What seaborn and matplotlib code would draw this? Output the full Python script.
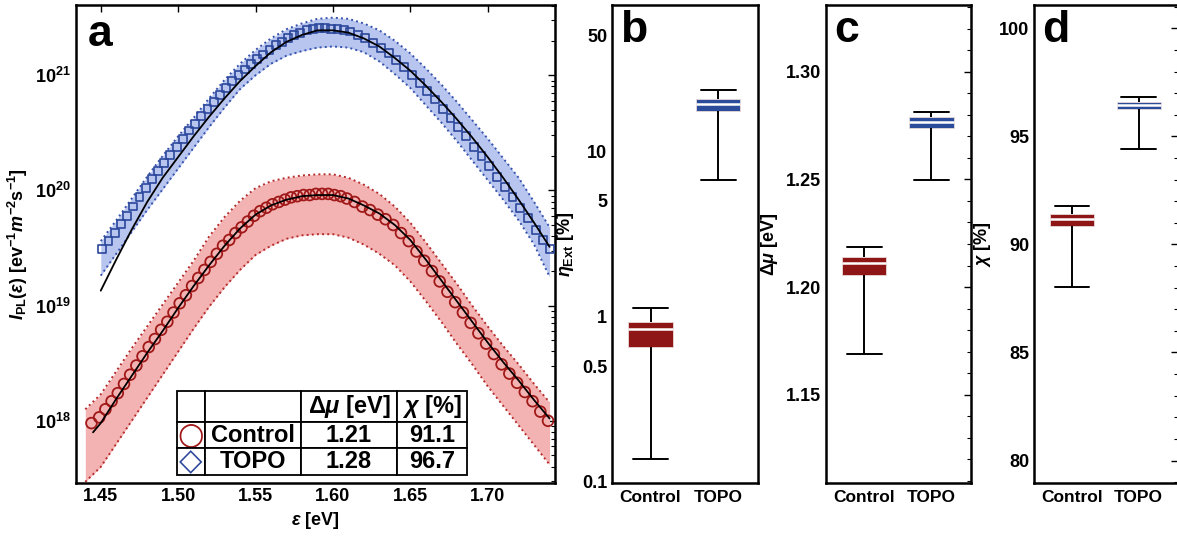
import numpy as np
import pandas as pd
import matplotlib
matplotlib.use("Agg")
import matplotlib.pyplot as plt
import seaborn as sns
from matplotlib.ticker import FixedLocator, FixedFormatter, MultipleLocator, LogLocator, NullFormatter, FormatStrFormatter

# ---------------- data (log10 of intensity) ----------------
band_x = [1.44, 1.45, 1.46, 1.47, 1.48, 1.49, 1.50, 1.51, 1.52, 1.53, 1.54, 1.55, 1.56, 1.57, 1.58,
          1.59, 1.60, 1.61, 1.62, 1.63, 1.64, 1.65, 1.66, 1.67, 1.68, 1.69, 1.70, 1.71, 1.72, 1.73, 1.74]
ctrl_band_hi = [18.10, 18.23, 18.43, 18.63, 18.82, 19.01, 19.20, 19.39, 19.60, 19.77, 19.91, 20.02, 20.08,
                20.11, 20.13, 20.14, 20.14, 20.11, 20.05, 19.97, 19.86, 19.72, 19.55, 19.37, 19.19, 19.00,
                18.82, 18.65, 18.49, 18.32, 18.16]
ctrl_band_lo = [17.47, 17.60, 17.80, 18.00, 18.20, 18.40, 18.60, 18.80, 18.99, 19.16, 19.31, 19.44, 19.52,
                19.58, 19.61, 19.62, 19.62, 19.59, 19.53, 19.45, 19.35, 19.21, 19.04, 18.86, 18.67, 18.49,
                18.30, 18.13, 17.96, 17.79, 17.62]

topo_band_x = [1.45, 1.46, 1.47, 1.48, 1.49, 1.50, 1.51, 1.52, 1.53, 1.54, 1.55, 1.56, 1.57, 1.58, 1.59,
               1.60, 1.61, 1.62, 1.63, 1.64, 1.65, 1.66, 1.67, 1.68, 1.69, 1.70, 1.71, 1.72, 1.73, 1.74]
topo_band_hi = [19.56, 19.74, 19.93, 20.12, 20.30, 20.47, 20.63, 20.80, 20.96, 21.10, 21.22, 21.32, 21.40,
                21.45, 21.49, 21.50, 21.49, 21.45, 21.39, 21.30, 21.19, 21.06, 20.92, 20.77, 20.61, 20.45,
                20.28, 20.11, 19.90, 19.68]
topo_band_lo = [19.26, 19.45, 19.64, 19.83, 20.01, 20.19, 20.37, 20.55, 20.72, 20.88, 21.00, 21.10, 21.17,
                21.21, 21.24, 21.25, 21.24, 21.20, 21.12, 21.01, 20.89, 20.74, 20.59, 20.43, 20.26, 20.09,
                19.92, 19.74, 19.53, 19.25]

ctrl_fit_x = [1.445, 1.45, 1.46, 1.47, 1.48, 1.49, 1.50, 1.51, 1.52, 1.53, 1.54, 1.55, 1.56, 1.57, 1.58,
              1.59, 1.60, 1.61, 1.62, 1.63, 1.64, 1.65, 1.66, 1.67, 1.68, 1.69, 1.70, 1.71, 1.72, 1.73, 1.74]
ctrl_fit = [17.90, 17.98, 18.19, 18.39, 18.59, 18.78, 18.98, 19.17, 19.35, 19.52, 19.67, 19.79, 19.87,
            19.92, 19.95, 19.96, 19.96, 19.93, 19.87, 19.80, 19.70, 19.57, 19.40, 19.22, 19.04, 18.86,
            18.68, 18.51, 18.35, 18.18, 18.02]

topo_fit_x = topo_band_x
topo_fit = [19.13, 19.40, 19.66, 19.90, 20.11, 20.29, 20.47, 20.64, 20.80, 20.95, 21.08, 21.20, 21.29,
            21.35, 21.39, 21.39, 21.37, 21.32, 21.25, 21.15, 21.04, 20.91, 20.77, 20.62, 20.46, 20.29,
            20.11, 19.92, 19.72, 19.51]

ctrl_x = [1.444, 1.449, 1.453, 1.457, 1.461, 1.465, 1.469, 1.473, 1.477, 1.481, 1.485, 1.489, 1.493,
          1.497, 1.501, 1.505, 1.509, 1.513, 1.517, 1.521, 1.525, 1.529, 1.533, 1.537, 1.541, 1.545,
          1.549, 1.553, 1.557, 1.561, 1.565, 1.569, 1.573, 1.577, 1.581, 1.585, 1.589, 1.593, 1.597,
          1.601, 1.605, 1.609, 1.614, 1.619, 1.624, 1.629, 1.634, 1.639, 1.644, 1.649, 1.654, 1.659,
          1.664, 1.669, 1.674, 1.679, 1.684, 1.689, 1.694, 1.699, 1.704, 1.709, 1.714, 1.719, 1.724,
          1.729, 1.734, 1.739]
ctrl_y = [17.98, 18.03, 18.10, 18.17, 18.24, 18.32, 18.40, 18.48, 18.56, 18.64, 18.71, 18.79, 18.86,
          18.94, 19.02, 19.09, 19.17, 19.24, 19.31, 19.38, 19.45, 19.52, 19.57, 19.63, 19.68, 19.73,
          19.78, 19.82, 19.85, 19.88, 19.90, 19.92, 19.94, 19.95, 19.96, 19.96, 19.97, 19.97, 19.97,
          19.96, 19.95, 19.93, 19.90, 19.86, 19.83, 19.79, 19.75, 19.70, 19.63, 19.56, 19.47, 19.39,
          19.30, 19.21, 19.12, 19.03, 18.94, 18.85, 18.76, 18.67, 18.58, 18.49, 18.41, 18.33, 18.25,
          18.17, 18.08, 18.00]

topo_x = [1.451, 1.455, 1.459, 1.463, 1.467, 1.471, 1.475, 1.479, 1.483, 1.487, 1.491, 1.495, 1.499,
          1.503, 1.507, 1.511, 1.515, 1.519, 1.523, 1.527, 1.531, 1.535, 1.539, 1.543, 1.547, 1.551,
          1.555, 1.559, 1.563, 1.567, 1.571, 1.575, 1.579, 1.583, 1.587, 1.591, 1.595, 1.599, 1.603,
          1.607, 1.611, 1.616, 1.621, 1.626, 1.631, 1.636, 1.641, 1.646, 1.651, 1.656, 1.661, 1.666,
          1.671, 1.676, 1.681, 1.686, 1.691, 1.696, 1.701, 1.706, 1.711, 1.716, 1.721, 1.726, 1.731,
          1.736, 1.740]
topo_y = [19.49, 19.56, 19.63, 19.71, 19.78, 19.86, 19.94, 20.02, 20.10, 20.17, 20.24, 20.31, 20.38,
          20.45, 20.52, 20.58, 20.65, 20.71, 20.77, 20.83, 20.89, 20.95, 21.00, 21.05, 21.10, 21.14,
          21.18, 21.22, 21.26, 21.29, 21.32, 21.35, 21.37, 21.39, 21.40, 21.41, 21.41, 21.40, 21.40,
          21.39, 21.38, 21.35, 21.32, 21.28, 21.24, 21.19, 21.13, 21.07, 21.00, 20.93, 20.86, 20.79,
          20.71, 20.63, 20.55, 20.47, 20.38, 20.30, 20.21, 20.12, 20.03, 19.94, 19.85, 19.76, 19.66,
          19.57, 19.49]

groups = ["Control", "TOPO"]
table_dmu = ["1.21", "1.28"]
table_chi = ["91.1", "96.7"]

# five-number summaries: whisker low, Q1, median, Q3, whisker high
eta_control = [0.137, 0.65, 0.84, 0.92, 1.13]
eta_topo = [6.65, 17.5, 19.3, 20.8, 23.4]
dmu_control = [1.169, 1.2054, 1.2111, 1.2138, 1.2186]
dmu_topo = [1.2497, 1.2740, 1.2765, 1.2788, 1.2813]
chi_control = [88.02, 90.84, 91.20, 91.43, 91.79]
chi_topo = [94.42, 96.29, 96.46, 96.61, 96.84]

# ---------------- style ----------------
sns.set_theme(style="white")
plt.rcParams['font.family'] = ['Liberation Sans', 'DejaVu Sans']
plt.rcParams['font.weight'] = 'bold'
plt.rcParams['axes.labelweight'] = 'bold'
plt.rcParams['text.color'] = 'black'
plt.rcParams['axes.labelcolor'] = 'black'
plt.rcParams['xtick.color'] = 'black'
plt.rcParams['ytick.color'] = 'black'
plt.rcParams['mathtext.fontset'] = 'custom'
plt.rcParams['mathtext.rm'] = 'Liberation Sans:bold'
plt.rcParams['mathtext.it'] = 'Liberation Sans:italic:bold'
plt.rcParams['mathtext.bf'] = 'Liberation Sans:bold'
plt.rcParams['mathtext.sf'] = 'Liberation Sans:bold'
plt.rcParams['mathtext.fallback'] = 'stixsans'

RED_FILL = '#f4b3b3'
RED_EDGE = '#b52a2a'
RED_MK = '#a01818'
BLUE_FILL = '#b8c5ef'
BLUE_EDGE = '#3552ad'
BLUE_MK = '#2c479b'
BOX_RED = '#8e1616'
BOX_BLUE = '#2b4b9b'

W, H = 1177, 540
fig = plt.figure(figsize=(W / 100, H / 100), dpi=100)


def rect(l, r, t=5, b=483):
    return [l / W, (H - b) / H, (r - l) / W, (b - t) / H]


def style_axes(ax):
    for s in ax.spines.values():
        s.set_visible(True)
        s.set_color('black')
        s.set_linewidth(1.8)
    ax.tick_params(which='both', direction='in', colors='black', labelcolor='black', labelsize=13)
    ax.tick_params(which='major', length=5, width=1.0)
    ax.tick_params(which='minor', length=3, width=0.8)


# ---------------- panel a ----------------
axa = fig.add_axes(rect(76, 555))
axa.set_yscale('log')
bx = np.array(band_x)
tbx = np.array(topo_band_x)
axa.fill_between(bx, 10 ** np.array(ctrl_band_lo), 10 ** np.array(ctrl_band_hi), color=RED_FILL, lw=0, zorder=1)
axa.fill_between(tbx, 10 ** np.array(topo_band_lo), 10 ** np.array(topo_band_hi), color=BLUE_FILL, lw=0, zorder=1)
for xs, ys, c in [(bx, ctrl_band_hi, RED_EDGE), (bx, ctrl_band_lo, RED_EDGE),
                  (tbx, topo_band_hi, BLUE_EDGE), (tbx, topo_band_lo, BLUE_EDGE)]:
    sns.lineplot(x=xs, y=10 ** np.array(ys), ax=axa, color=c, linestyle=':', linewidth=1.4,
                 sort=False, estimator=None, zorder=2)

sns.scatterplot(x=ctrl_x, y=10 ** np.array(ctrl_y), ax=axa, marker='o', s=60,
                facecolor='none', edgecolor=RED_MK, linewidth=1.3, zorder=3)
sns.scatterplot(x=topo_x, y=10 ** np.array(topo_y), ax=axa, marker='s', s=32,
                facecolor='none', edgecolor=BLUE_MK, linewidth=1.2, zorder=3)
sns.lineplot(x=ctrl_fit_x, y=10 ** np.array(ctrl_fit), ax=axa, color='black', linewidth=1.3,
             sort=False, estimator=None, zorder=4)
sns.lineplot(x=topo_fit_x, y=10 ** np.array(topo_fit), ax=axa, color='black', linewidth=1.3,
             sort=False, estimator=None, zorder=4)

axa.set_xlim(1.434, 1.7435)
axa.set_ylim(10 ** 17.46, 10 ** 21.61)
style_axes(axa)
axa.xaxis.set_major_locator(FixedLocator([1.45, 1.50, 1.55, 1.60, 1.65, 1.70]))
axa.xaxis.set_major_formatter(FormatStrFormatter('%.2f'))
axa.yaxis.set_major_locator(FixedLocator([1e18, 1e19, 1e20, 1e21]))
axa.yaxis.set_minor_locator(LogLocator(base=10, subs=np.arange(2, 10)))
axa.yaxis.set_minor_formatter(NullFormatter())
axa.tick_params(which='both', top=True, right=True)
axa.set_xlabel(r'$\epsilon$ [eV]', fontsize=13, labelpad=4, color='black')
axa.set_ylabel(r'$I_{\rm PL}(\epsilon)$ [ev$^{-1}$$m^{-2}$s$^{-1}$]', fontsize=13, labelpad=4, color='black')
axa.text(0.025, 0.915, 'a', transform=axa.transAxes, fontsize=32, fontweight='bold', va='baseline',
         color='black', zorder=6)

cell_text = [['', '', r'$\Delta\mu$ [eV]', r'$\chi$ [%]'],
             ['\u25CB', groups[0], table_dmu[0], table_chi[0]],
             ['\u25C7', groups[1], table_dmu[1], table_chi[1]]]
tab = axa.table(cellText=cell_text, cellLoc='center', bbox=[0.21, 0.016, 0.606, 0.176],
                colWidths=[0.059, 0.201, 0.200, 0.146])
tab.auto_set_font_size(False)
row_h = [31, 26, 27]
for (r, c), cell in tab.get_celld().items():
    cell.set_edgecolor('black')
    cell.set_linewidth(1.3)
    cell.set_facecolor('white')
    cell.set_height(row_h[r])
    t = cell.get_text()
    t.set_fontsize(17)
    t.set_fontweight('bold')
    t.set_color('black')
    if c == 0 and r > 0:
        t.set_fontfamily('DejaVu Sans')
        t.set_fontsize(22)
        t.set_color(RED_MK if r == 1 else BLUE_MK)
tab.set_zorder(5)

# ---------------- box panels ----------------
def box_panel(ax, ctrl, topo, log=False):
    df = pd.DataFrame({'group': np.repeat(groups, 5), 'val': np.concatenate([ctrl, topo])})
    sns.boxplot(data=df, x='group', y='val', hue='group', palette={groups[0]: BOX_RED, groups[1]: BOX_BLUE},
                ax=ax, width=0.66, whis=(0, 100), log_scale=log, legend=False, saturation=1,
                linecolor='black', linewidth=1.3, showfliers=False,
                boxprops={'edgecolor': '#e8dada', 'linewidth': 0.6},
                medianprops={'color': 'white', 'linewidth': 1.8},
                whiskerprops={'color': 'black', 'linewidth': 1.4},
                capprops={'color': 'black', 'linewidth': 1.4})
    for ln in ax.lines:
        xd = np.asarray(ln.get_xdata(), dtype=float)
        yd = np.asarray(ln.get_ydata(), dtype=float)
        if len(xd) == 2 and yd[0] == yd[1] and abs(abs(xd[1] - xd[0]) - 0.33) < 1e-3:
            cx = xd.mean()
            ln.set_xdata([cx - 0.26, cx + 0.26])
    ax.set_xlim(-0.57, 1.59)
    ax.set_xlabel('')
    style_axes(ax)
    ax.tick_params(axis='x', length=0, labelsize=12.5, pad=5)


axb = fig.add_axes(rect(612, 758))
box_panel(axb, eta_control, eta_topo, log=True)
axb.set_ylim(0.098, 76.8)
axb.yaxis.set_major_locator(FixedLocator([0.1, 0.5, 1, 5, 10, 50]))
axb.yaxis.set_major_formatter(FixedFormatter(['0.1', '0.5', '1', '5', '10', '50']))
axb.yaxis.set_minor_locator(LogLocator(base=10, subs=np.arange(2, 10)))
axb.yaxis.set_minor_formatter(NullFormatter())
axb.set_ylabel(r'$\eta_{\rm Ext}$ [%]', fontsize=13, labelpad=4, color='black')
axb.text(0.055, 0.922, 'b', transform=axb.transAxes, fontsize=32, fontweight='bold', va='baseline', color='black')

axc = fig.add_axes(rect(826, 971))
box_panel(axc, dmu_control, dmu_topo)
axc.set_ylim(1.109, 1.331)
axc.yaxis.set_major_locator(FixedLocator([1.15, 1.20, 1.25, 1.30]))
axc.yaxis.set_major_formatter(FormatStrFormatter('%.2f'))
axc.yaxis.set_minor_locator(MultipleLocator(0.01))
axc.tick_params(axis='y', which='both', right=True)
axc.set_ylabel(r'$\Delta\mu$ [eV]', fontsize=13, labelpad=4, color='black')
axc.text(0.055, 0.922, 'c', transform=axc.transAxes, fontsize=32, fontweight='bold', va='baseline', color='black')

axd = fig.add_axes(rect(1034, 1178))
box_panel(axd, chi_control, chi_topo)
axd.set_ylim(78.96, 101.08)
axd.yaxis.set_major_locator(FixedLocator([80, 85, 90, 95, 100]))
axd.yaxis.set_major_formatter(FormatStrFormatter('%d'))
axd.yaxis.set_minor_locator(MultipleLocator(1))
axd.tick_params(axis='y', which='both', right=True)
axd.set_ylabel(r'$\chi$ [%]', fontsize=13, labelpad=4, color='black')
axd.text(0.055, 0.922, 'd', transform=axd.transAxes, fontsize=32, fontweight='bold', va='baseline', color='black')

fig.savefig('out.png', dpi=100)
